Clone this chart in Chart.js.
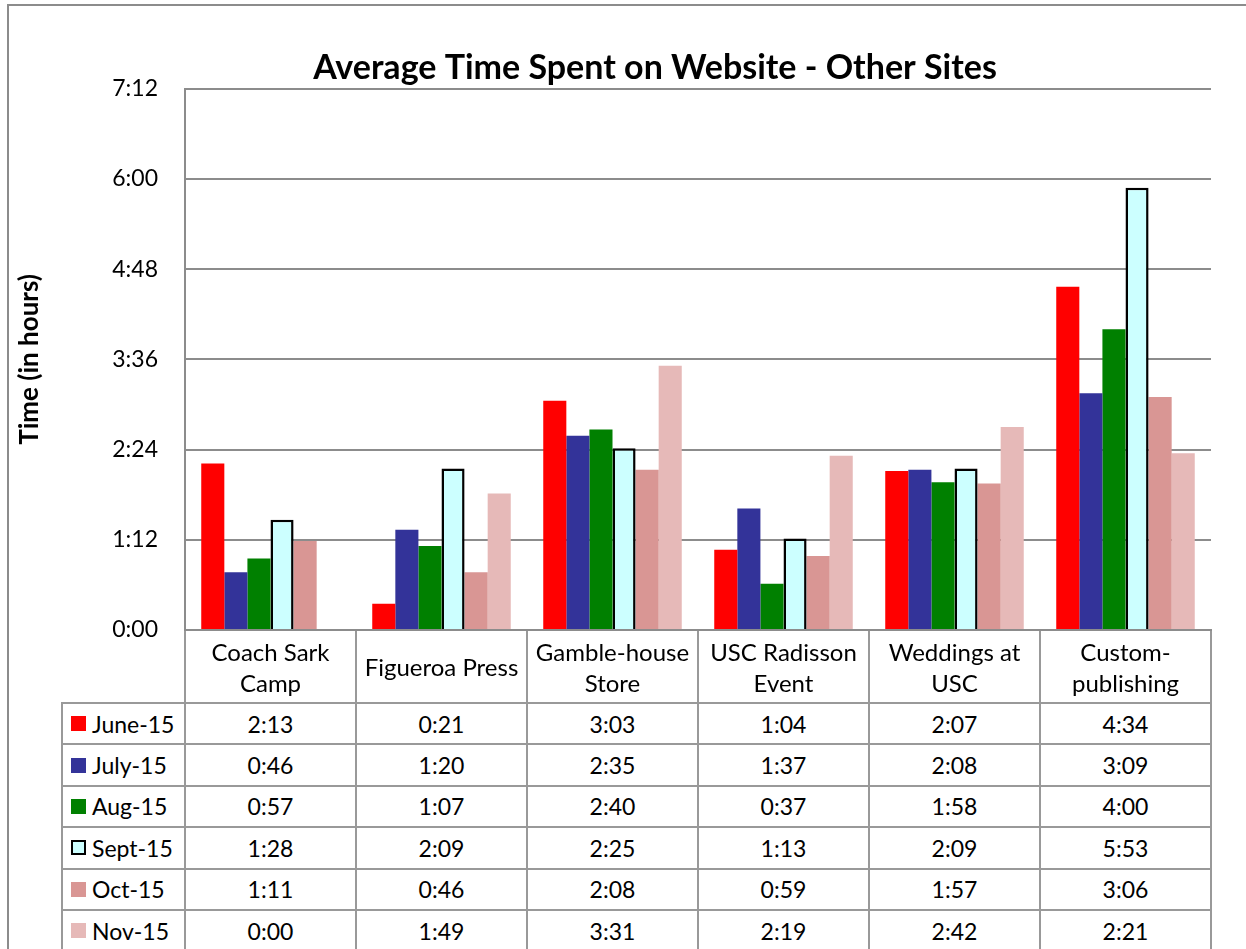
<!DOCTYPE html>
<html>
<head>
<meta charset="utf-8">
<script src="https://cdn.jsdelivr.net/npm/chart.js@4.4.1/dist/chart.umd.min.js"></script>
<style>
  html, body { margin: 0; padding: 0; background: #fff; overflow: hidden; width: 1246px; height: 949px; }
  #frame { position: absolute; left: 7px; top: 4px; width: 1260px; height: 960px;
           border-left: 2px solid #8c8c8c; border-top: 2px solid #8c8c8c; }
  #c { position: absolute; left: 0; top: 0; }
  #tbl { position: absolute; left: 61px; top: 702px; display: grid;
         grid-template-columns: 121px repeat(6, 169px); grid-auto-rows: 39.4px;
         gap: 2px; padding: 2px; background: #999;
         font-family: Lato, "Open Sans", sans-serif; font-size: 23px; color: #000; }
  #tbl > div { background: #fff; display: flex; align-items: center; justify-content: center; }
  #tbl > div.key { justify-content: flex-start; padding-left: 8px; }
  .sw { display: inline-block; width: 15px; height: 15px; margin-right: 6px; box-sizing: border-box; }
</style>
</head>
<body>
<div id="frame"></div>
<canvas id="c" width="1246" height="703"></canvas>
<div id="tbl"></div>
<script>
/* data (H:MM) */
const chartTitle = 'Average Time Spent on Website - Other Sites';
const yTitle = 'Time (in hours)';
const categories = [['Coach Sark', 'Camp'], 'Figueroa Press', ['Gamble-house', 'Store'],
                    ['USC Radisson', 'Event'], ['Weddings at', 'USC'], ['Custom-', 'publishing']];
const seriesNames = ['June-15', 'July-15', 'Aug-15', 'Sept-15', 'Oct-15', 'Nov-15'];
const june15 = ['2:13', '0:21', '3:03', '1:04', '2:07', '4:34'];
const july15 = ['0:46', '1:20', '2:35', '1:37', '2:08', '3:09'];
const aug15  = ['0:57', '1:07', '2:40', '0:37', '1:58', '4:00'];
const sept15 = ['1:28', '2:09', '2:25', '1:13', '2:09', '5:53'];
const oct15  = ['1:11', '0:46', '2:08', '0:59', '1:57', '3:06'];
const nov15  = ['0:00', '1:49', '3:31', '2:19', '2:42', '2:21'];
const seriesValues = [june15, july15, aug15, sept15, oct15, nov15];
const yTickLabels = ['0:00', '1:12', '2:24', '3:36', '4:48', '6:00', '7:12'];

const seriesColors = ['#ff0000', '#333399', '#008000', '#ccffff', '#d99694', '#e6b9b8'];
const FONT = 'Lato, "Open Sans", sans-serif';

const toMin = s => { const [h, m] = s.split(':').map(Number); return h * 60 + m; };
const yTicks = yTickLabels.map(toMin);

/* y-axis title sits far left, outside the layout box */
const yTitlePlugin = {
  id: 'yTitle',
  afterDraw(chart) {
    const ctx = chart.ctx, a = chart.chartArea;
    ctx.save();
    ctx.translate(30, (a.top + a.bottom) / 2);
    ctx.rotate(-Math.PI / 2);
    ctx.font = 'bold 26px ' + FONT;
    ctx.fillStyle = '#000';
    ctx.textAlign = 'center';
    ctx.textBaseline = 'middle';
    ctx.fillText(yTitle, 0, 0);
    ctx.restore();
  }
};

new Chart(document.getElementById('c'), {
  type: 'bar',
  data: {
    labels: categories,
    datasets: seriesNames.map((name, i) => ({
      label: name,
      data: seriesValues[i].map(toMin),
      backgroundColor: seriesColors[i],
      borderColor: '#000',
      borderWidth: i === 3 ? 2.5 : 0,
      categoryPercentage: 0.81,
      barPercentage: 1
    }))
  },
  options: {
    responsive: false,
    animation: false,
    layout: { padding: { left: 99, right: 35, top: 0, bottom: 0 } },
    plugins: {
      legend: { display: false },
      tooltip: { enabled: false },
      title: {
        display: true, text: chartTitle, color: '#000',
        font: { family: FONT, size: 34, weight: 'bold' },
        padding: { top: 48, bottom: 0 }
      }
    },
    scales: {
      x: {
        grid: { drawOnChartArea: false, drawTicks: true, tickLength: 73, offset: true, color: '#999', lineWidth: 2 },
        border: { color: '#8c8c8c', width: 2 },
        ticks: { font: { family: FONT, size: 24, lineHeight: 1.3 }, color: '#000', padding: -50,
                 crossAlign: 'center', autoSkip: false, maxRotation: 0, minRotation: 0 },
        afterFit(s) { s.height = 73; }
      },
      y: {
        min: yTicks[0], max: yTicks[yTicks.length - 1],
        afterBuildTicks(s) { s.ticks = yTicks.map(v => ({ value: v })); },
        grid: { color: '#8c8c8c', lineWidth: 2, drawTicks: false },
        border: { color: '#8c8c8c', width: 2 },
        ticks: { padding: 27, color: '#000', font: { family: FONT, size: 23 },
                 callback: (v, i) => yTickLabels[i] },
        afterFit(s) { s.width = 86; }
      }
    }
  },
  plugins: [yTitlePlugin]
});

/* data table under the plot */
const tbl = document.getElementById('tbl');
seriesNames.forEach((name, i) => {
  const key = document.createElement('div');
  key.className = 'key';
  const sw = document.createElement('span');
  sw.className = 'sw';
  sw.style.background = seriesColors[i];
  if (i === 3) sw.style.border = '2px solid #000';
  key.appendChild(sw);
  key.appendChild(document.createTextNode(name));
  tbl.appendChild(key);
  seriesValues[i].forEach(v => {
    const cell = document.createElement('div');
    cell.textContent = v;
    tbl.appendChild(cell);
  });
});
</script>
</body>
</html>
